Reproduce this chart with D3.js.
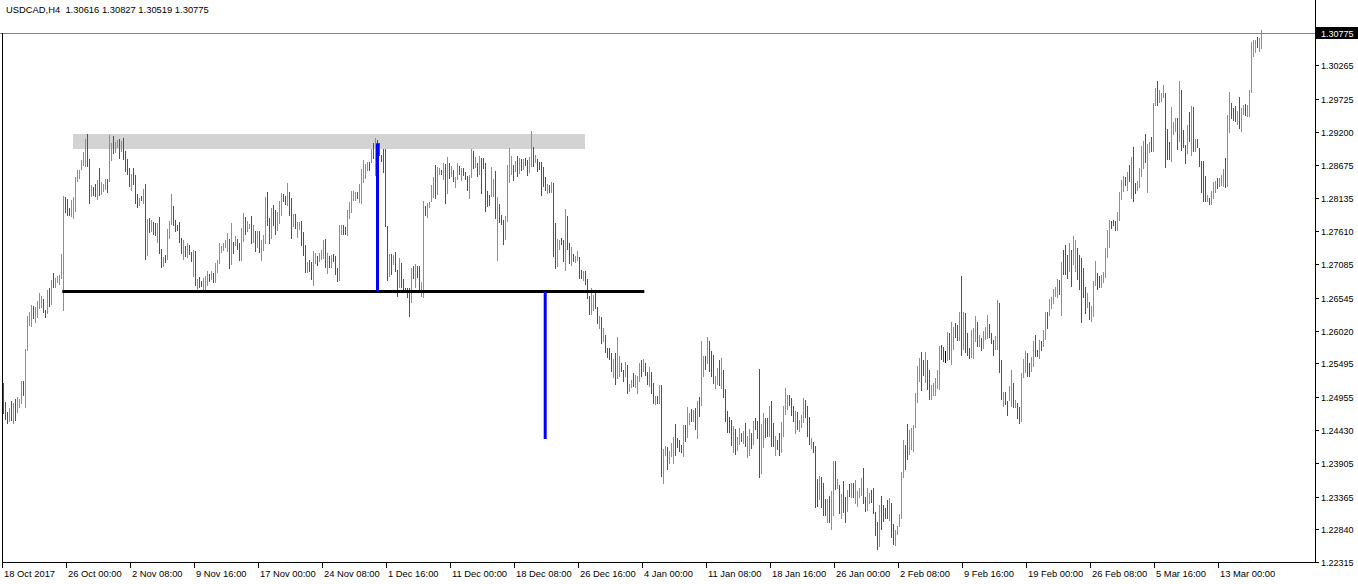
<!DOCTYPE html>
<html><head><meta charset="utf-8">
<script src="https://cdn.jsdelivr.net/npm/d3@7"></script>
<style>
body{margin:0;background:#fff;}
svg{display:block;}
text{font-family:"Liberation Sans",Arial,sans-serif;fill:#000;}
</style>
</head><body>
<svg id="chart" width="1358" height="584"></svg>
<script>
const chartTitle = "USDCAD,H4\u00a0\u00a01.30616 1.30827 1.30519 1.30775";
const lastPrice = 1.30775;

const highs = [
1.25182,1.24878,1.24718,1.24782,1.24894,1.24862,1.24926,1.24958,1.24926,1.25214,
1.25214,1.25726,1.26254,1.26318,1.26430,1.26414,1.26398,1.26494,1.26622,1.26574,
1.26526,1.26350,1.26670,1.26702,1.26830,1.26942,1.26862,1.26894,1.26910,1.27246,
1.28174,1.28158,1.28126,1.27982,1.28110,1.28158,1.28478,1.28590,1.28590,1.28750,
1.28878,1.29086,1.29166,1.28766,1.28350,1.28318,1.28366,1.28430,1.28622,1.28398,
1.28366,1.28446,1.28446,1.29150,1.29022,1.29134,1.29038,1.29070,1.29086,1.29054,
1.29102,1.28894,1.28766,1.28622,1.28526,1.28622,1.28510,1.28206,1.28142,1.28174,
1.28286,1.28366,1.27806,1.27822,1.27790,1.27758,1.27742,1.27742,1.27838,1.27326,
1.27198,1.27230,1.27646,1.27774,1.28206,1.28014,1.27790,1.27710,1.27758,1.27502,
1.27470,1.27374,1.27422,1.27390,1.27278,1.27310,1.27294,1.26846,1.26878,1.26814,
1.26862,1.26894,1.26974,1.26926,1.26974,1.26942,1.27102,1.27150,1.27422,1.27374,
1.27422,1.27470,1.27582,1.27486,1.27742,1.27438,1.27534,1.27486,1.27422,1.27662,
1.27902,1.27838,1.27774,1.27726,1.27854,1.27710,1.27614,1.27614,1.27614,1.27470,
1.27550,1.28158,1.28238,1.27822,1.27982,1.28030,1.27950,1.27918,1.28094,1.28222,
1.28206,1.28174,1.28382,1.28238,1.28142,1.27886,1.27886,1.27758,1.27758,1.27774,
1.27598,1.27390,1.27118,1.27150,1.27118,1.27294,1.27262,1.27214,1.27262,1.27310,
1.27470,1.27486,1.27262,1.27214,1.27230,1.27246,1.27214,1.27022,1.27710,1.27710,
1.27710,1.27678,1.27950,1.28078,1.28254,1.28254,1.28238,1.28238,1.28366,1.28606,
1.28750,1.28686,1.28718,1.28718,1.28926,1.29022,1.29102,1.29070,1.29022,1.28830,
1.28926,1.28926,1.27694,1.27246,1.27246,1.27230,1.27278,1.26990,1.27182,1.27102,
1.26846,1.26702,1.26702,1.26702,1.27022,1.27054,1.27086,1.27054,1.27054,1.26798,
1.28094,1.28014,1.28062,1.28078,1.28350,1.28478,1.28670,1.28638,1.28622,1.28590,
1.28702,1.28686,1.28798,1.28702,1.28654,1.28590,1.28478,1.28702,1.28654,1.28622,
1.28622,1.28558,1.28494,1.28510,1.28926,1.28894,1.28798,1.28702,1.28814,1.28782,
1.28782,1.28702,1.28254,1.28190,1.28638,1.28446,1.28574,1.28158,1.28046,1.27870,
1.27790,1.27854,1.28670,1.28942,1.28814,1.28670,1.28734,1.28814,1.28782,1.28766,
1.28766,1.28782,1.28750,1.28798,1.29214,1.28958,1.28830,1.28766,1.28718,1.28718,
1.28638,1.28478,1.28366,1.28350,1.28398,1.28382,1.27742,1.27486,1.27470,1.27502,
1.27470,1.27966,1.27854,1.27422,1.27358,1.27246,1.27214,1.27294,1.27198,1.26990,
1.26974,1.26974,1.26846,1.26574,1.26702,1.26590,1.26638,1.26398,1.26254,1.26238,
1.26062,1.25950,1.25742,1.25742,1.25662,1.25566,1.25662,1.25918,1.25614,1.25502,
1.25390,1.25518,1.25470,1.25166,1.25230,1.25342,1.25310,1.25294,1.25502,1.25550,
1.25566,1.25502,1.25358,1.25438,1.25358,1.25182,1.24974,1.24974,1.25150,1.25150,
1.24126,1.24174,1.24158,1.24094,1.24222,1.24318,1.24526,1.24302,1.24270,1.24190,
1.24510,1.24510,1.24798,1.24702,1.24766,1.24750,1.24782,1.24894,1.24958,1.25854,
1.25614,1.25614,1.25918,1.25854,1.25694,1.25630,1.25294,1.25422,1.25550,1.25582,
1.25390,1.25086,1.24734,1.24638,1.24590,1.24494,1.24446,1.24318,1.24462,1.24382,
1.24414,1.24542,1.24334,1.24446,1.24382,1.24574,1.24622,1.24574,1.25406,1.24526,
1.24702,1.24622,1.24622,1.24814,1.24894,1.24542,1.24334,1.24270,1.24382,1.24558,
1.24814,1.25102,1.24990,1.24990,1.24942,1.24814,1.24734,1.24718,1.24590,1.24670,
1.24942,1.24910,1.24814,1.24638,1.24302,1.24238,1.24174,1.23646,1.23694,1.23678,
1.23582,1.23326,1.23326,1.23374,1.23454,1.23934,1.23934,1.23646,1.23550,1.23406,
1.23614,1.23358,1.23470,1.23566,1.23582,1.23582,1.23630,1.23454,1.23502,1.23662,
1.23822,1.23358,1.23502,1.23422,1.23470,1.23502,1.23118,1.22958,1.23230,1.23374,
1.23230,1.23182,1.23310,1.23342,1.23262,1.22926,1.22830,1.22894,1.23086,1.23758,
1.24270,1.24190,1.24526,1.24430,1.24462,1.24510,1.25022,1.25454,1.25582,1.25678,
1.25550,1.25678,1.25550,1.25390,1.25150,1.25182,1.25262,1.25390,1.25774,1.25790,
1.25758,1.25694,1.25998,1.25982,1.26158,1.26078,1.26142,1.26110,1.26318,1.26894,
1.26318,1.26302,1.25982,1.25742,1.26030,1.26062,1.26254,1.26158,1.25950,1.25902,
1.26014,1.26078,1.26270,1.26126,1.25982,1.25870,1.25934,1.26510,1.26462,1.25550,
1.25038,1.25038,1.24894,1.25134,1.25390,1.25182,1.24910,1.24862,1.24798,1.25342,
1.25566,1.25694,1.25662,1.25502,1.25598,1.25854,1.25950,1.25710,1.25870,1.25854,
1.26030,1.26318,1.26318,1.26526,1.26558,1.26686,1.26718,1.26846,1.26830,1.27118,
1.27310,1.27390,1.27230,1.27422,1.27310,1.27534,1.27470,1.27342,1.27230,1.27182,
1.27022,1.26718,1.26622,1.26478,1.26414,1.26814,1.27134,1.26942,1.26894,1.26910,
1.26958,1.27342,1.27630,1.27790,1.27774,1.27790,1.27774,1.27918,1.28238,1.28430,
1.28494,1.28478,1.28558,1.28670,1.28798,1.28958,1.28382,1.28414,1.28622,1.28974,
1.29054,1.29166,1.29006,1.29038,1.29118,1.29662,1.29902,1.30014,1.29870,1.29822,
1.29950,1.29822,1.29246,1.29038,1.29598,1.29358,1.29422,1.29422,1.30014,1.29870,
1.29230,1.28990,1.29310,1.29518,1.29614,1.29598,1.29086,1.29086,1.28942,1.28734,
1.28734,1.28494,1.28190,1.28142,1.28254,1.28398,1.28414,1.28462,1.28462,1.28510,
1.28606,1.28782,1.29470,1.29838,1.29662,1.29582,1.29614,1.29534,1.29758,1.29582,
1.29630,1.29646,1.29630,1.29870,1.30638,1.30670,1.30670,1.30718,1.30702,1.30827
];

const lows = [
1.24686,1.24590,1.24526,1.24558,1.24574,1.24526,1.24574,1.24702,1.24782,1.24846,
1.24974,1.24782,1.25694,1.26094,1.26078,1.26206,1.26142,1.26222,1.26366,1.26382,
1.26302,1.26222,1.26286,1.26398,1.26430,1.26702,1.26702,1.26782,1.26750,1.26846,
1.26334,1.27902,1.27854,1.27854,1.27838,1.27806,1.27918,1.28398,1.28446,1.28590,
1.28654,1.28638,1.28638,1.28046,1.28158,1.28174,1.28158,1.28110,1.28174,1.28190,
1.28238,1.28270,1.28222,1.28398,1.28734,1.28846,1.28862,1.28942,1.28766,1.28878,
1.28750,1.28558,1.28510,1.28318,1.28254,1.28350,1.28046,1.27982,1.28014,1.28094,
1.28046,1.27150,1.27214,1.27582,1.27598,1.27550,1.27534,1.27422,1.27246,1.27022,
1.27038,1.27102,1.27150,1.27486,1.27710,1.27694,1.27598,1.27614,1.27422,1.27246,
1.27150,1.27198,1.27182,1.27230,1.27118,1.26878,1.26734,1.26670,1.26702,1.26718,
1.26670,1.26670,1.26734,1.26798,1.26830,1.26782,1.26782,1.26942,1.27086,1.27262,
1.27294,1.27342,1.27278,1.27006,1.27070,1.27246,1.27374,1.27310,1.27134,1.27134,
1.27438,1.27550,1.27598,1.27646,1.27406,1.27422,1.27278,1.27342,1.27262,1.27134,
1.27294,1.27406,1.27694,1.27406,1.27486,1.27694,1.27550,1.27614,1.27726,1.27854,
1.28078,1.28030,1.28014,1.27854,1.27486,1.27678,1.27646,1.27502,1.27630,1.27374,
1.27214,1.26942,1.26942,1.26958,1.26830,1.26734,1.27086,1.27054,1.27118,1.27150,
1.27166,1.27022,1.26926,1.27022,1.27022,1.27118,1.26910,1.26798,1.26814,1.27550,
1.27550,1.27550,1.27534,1.27806,1.27902,1.28094,1.28094,1.28126,1.28062,1.28046,
1.28382,1.28446,1.28574,1.28574,1.28702,1.28766,1.28494,1.28830,1.28814,1.28718,
1.28542,1.27678,1.26814,1.26878,1.26910,1.27070,1.26958,1.26558,1.26702,1.26702,
1.26622,1.26622,1.26542,1.26238,1.26462,1.26846,1.26702,1.26862,1.26670,1.26558,
1.26542,1.27854,1.27822,1.27982,1.28078,1.28142,1.28126,1.28190,1.28510,1.28510,
1.28430,1.28046,1.28206,1.28446,1.28478,1.28398,1.28302,1.28430,1.28510,1.28414,
1.28494,1.28430,1.28254,1.28126,1.28462,1.28606,1.28622,1.28478,1.28510,1.28206,
1.28606,1.27918,1.27998,1.28014,1.28158,1.28158,1.27806,1.27134,1.27742,1.27710,
1.27390,1.27470,1.27758,1.28382,1.28510,1.28414,1.28558,1.28478,1.28526,1.28574,
1.28590,1.28654,1.28494,1.28542,1.28638,1.28638,1.28702,1.28558,1.28590,1.28174,
1.28318,1.28254,1.28206,1.28222,1.28222,1.27198,1.27006,1.27038,1.27310,1.27390,
1.27118,1.26974,1.27310,1.27086,1.27054,1.27118,1.27102,1.27134,1.26846,1.26846,
1.26814,1.26750,1.26526,1.26270,1.26270,1.26334,1.26366,1.26126,1.26046,1.25806,
1.25838,1.25662,1.25582,1.25550,1.25358,1.25262,1.25150,1.25246,1.25278,1.25358,
1.25198,1.25278,1.25006,1.25038,1.25102,1.25118,1.25102,1.25006,1.25198,1.25278,
1.25358,1.25294,1.25150,1.25118,1.25006,1.24846,1.24830,1.24846,1.24846,1.23678,
1.23566,1.24014,1.23790,1.23886,1.23998,1.23886,1.24014,1.24142,1.24078,1.24062,
1.23998,1.24238,1.24302,1.24510,1.24558,1.24558,1.24430,1.24286,1.24638,1.24814,
1.25278,1.25390,1.25486,1.25358,1.25278,1.25166,1.25086,1.25150,1.25134,1.25086,
1.24942,1.24558,1.24382,1.24382,1.24174,1.24062,1.24030,1.24094,1.24190,1.24238,
1.24206,1.24158,1.23982,1.24014,1.24126,1.24190,1.24430,1.24286,1.23662,1.23726,
1.24142,1.24302,1.24318,1.24318,1.24158,1.24158,1.24014,1.24110,1.24014,1.24062,
1.24318,1.24670,1.24750,1.24814,1.24654,1.24558,1.24366,1.24430,1.24398,1.24462,
1.24542,1.24622,1.24318,1.24190,1.24126,1.24062,1.23182,1.23198,1.23310,1.23182,
1.23054,1.23054,1.22942,1.22942,1.22830,1.23054,1.23470,1.23486,1.23086,1.23006,
1.23102,1.22942,1.23118,1.23358,1.23342,1.23342,1.23246,1.23198,1.23342,1.23374,
1.23246,1.23118,1.23134,1.23246,1.23262,1.23086,1.22734,1.22510,1.22558,1.22830,
1.22958,1.23006,1.23006,1.22974,1.22702,1.22590,1.22574,1.22750,1.22878,1.23006,
1.23662,1.23790,1.23950,1.24030,1.24110,1.24078,1.24462,1.24862,1.25198,1.25054,
1.25294,1.25182,1.25070,1.24910,1.24910,1.24974,1.24974,1.25086,1.25070,1.25550,
1.25518,1.25502,1.25534,1.25550,1.25470,1.25710,1.25902,1.25854,1.25854,1.25614,
1.25710,1.25662,1.25614,1.25566,1.25582,1.25566,1.25838,1.25758,1.25758,1.25694,
1.25726,1.25870,1.25886,1.25902,1.25806,1.25614,1.25710,1.25710,1.25342,1.24910,
1.24798,1.24830,1.24654,1.24894,1.24798,1.24782,1.24782,1.24606,1.24526,1.24558,
1.25262,1.25342,1.25278,1.25278,1.25358,1.25438,1.25598,1.25598,1.25566,1.25694,
1.25758,1.25870,1.26046,1.26254,1.26366,1.26446,1.26558,1.26542,1.26590,1.26254,
1.26910,1.26910,1.26846,1.26958,1.26718,1.27070,1.26958,1.26830,1.26670,1.26142,
1.26542,1.26286,1.26382,1.26190,1.26158,1.26238,1.26734,1.26670,1.26702,1.26702,
1.26782,1.26862,1.27182,1.27342,1.27646,1.27694,1.27614,1.27614,1.27774,1.28110,
1.28238,1.28334,1.28254,1.28398,1.28126,1.28078,1.28206,1.28254,1.28302,1.28478,
1.28606,1.28702,1.28222,1.28862,1.28878,1.28878,1.29614,1.29614,1.29662,1.29678,
1.29742,1.28622,1.28750,1.28750,1.28718,1.29150,1.29198,1.28910,1.29038,1.28894,
1.28942,1.28686,1.28846,1.29038,1.28814,1.28878,1.28878,1.28942,1.28638,1.28222,
1.28078,1.28078,1.28078,1.28030,1.28030,1.28126,1.28222,1.28286,1.28318,1.28334,
1.28318,1.28302,1.28318,1.29182,1.29406,1.29374,1.29358,1.29310,1.29246,1.29198,
1.29470,1.29454,1.29438,1.29438,1.29822,1.30398,1.30462,1.30542,1.30478,1.30519
];

// U = bullish bar, D = bearish bar, N = unchanged
const barDirections = (
"DDDUDUDUUU" + "DUUUUDUUUU" + "DDUDUDUUUU" + "UDDDUUUUUU" + "UUDDUDDUDU" +
"UUDUUDUUDU" + "DDDDUDDDUD" + "UDUDUDDUDD" + "UDUUUDDDDD" + "UDUDDUDUDD" +
"UUUDUDUUUU" + "UUUDUDUDDU" + "UDUUDUDUDU" + "UUDDUDDUUU" + "DDUDDUDUUD" +
"DDUDDUUDUU" + "UDUDUDDDUU" + "DDUUUUUDUU" + "UUUDUDUDDD" + "DDDUDUDDUD" +
"DDDDUDUDDU" + "UDUUUUDUUD" + "UDUDUDUUDU" + "DDDUUDUDUD" + "DDDDUUDUDD" +
"DUUUUDUDUD" + "UDDUUDUDDD" + "DDUDUDDUUD" + "DUDDUDUUDD" + "UDDDUUDDUD" +
"UDDDDUDUUD" + "DUDUUDUUUD" + "UDDUDDUDUD" + "UUDUUUDDDD" + "UDUUDUDUDU" +
"UDUDDDUUDU" + "DDDDDUDUUD" + "UDUUDUDDDU" + "UDDUDDUDDU" + "UUUDDDUDUU" +
"UDDDUDDDUD" + "DDUDUUDUDU" + "DDUDUDUUUU" + "DDUUDDDDUD" + "DDDUDDUUUU" +
"UDDUUUUUUD" + "DUDDUUUUUD" + "DNUDUUDDUD" + "UDDDUUUDUD" + "UUUDDDUUDD" +
"UDDUUDUDDU" + "UUDDUUDDUD" + "UUDUUUUUDU" + "DDDUDUUDDD" + "DDUDUUUDDU" +
"UUUUDDDUUU" + "UDUDUDDUUU" + "UDUUDUUDUU" + "UDDDUUUDUD" + "DDUDUDUDDD" +
"DDUDUUUDUU" + "UDUUDDDUDU" + "UDUUUUUDUU").split("");

const priceTickLabels = ["1.30265","1.29725","1.29200","1.28675","1.28135","1.27610","1.27085","1.26545",
  "1.26020","1.25495","1.24955","1.24430","1.23905","1.23365","1.22840","1.22315"];

const timeTickBars = [0,32,64,96,128,160,192,224,256,288,320,352,384,416,448,480,512,544,576,608];
const timeTickLabels = ["18 Oct 2017","26 Oct 00:00","2 Nov 08:00","9 Nov 16:00","17 Nov 00:00",
  "24 Nov 08:00","1 Dec 16:00","11 Dec 00:00","18 Dec 08:00","26 Dec 16:00","4 Jan 00:00",
  "11 Jan 08:00","18 Jan 16:00","26 Jan 00:00","2 Feb 08:00","9 Feb 16:00","19 Feb 00:00",
  "26 Feb 08:00","5 Mar 16:00","13 Mar 00:00"];

// annotations (bar index / price)
const zoneBars = [35, 291];
const zonePrices = [1.29166, 1.28926];
const supportBars = [29.65, 320.65];
const supportPrice = 1.26646;
const projectionBars = [187.25, 271.1];
const projectionFrom = [1.29017, 1.26646];
const projectionTo = [1.26646, 1.24286];

const W = 1358, H = 584;
const plotRight = 1315, plotBottom = 562;
const n = Math.min(highs.length, lows.length, barDirections.length);

const x = d3.scaleLinear().domain([0, 629]).range([3, 1261]);
const y = d3.scaleLinear().domain([1.22318, 1.3131]).range([562, 0]);

const svg = d3.select("#chart");
const colors = {U: "#1fdc1f", D: "#e01414", N: "#000000"};

// resistance zone
svg.append("rect")
  .attr("x", x(zoneBars[0])).attr("width", x(zoneBars[1]) - x(zoneBars[0]))
  .attr("y", y(zonePrices[0])).attr("height", y(zonePrices[1]) - y(zonePrices[0]))
  .attr("fill", "#d3d3d3");

// bid line
svg.append("line")
  .attr("x1", 0).attr("x2", plotRight)
  .attr("y1", Math.round(y(lastPrice)) + 0.5).attr("y2", Math.round(y(lastPrice)) + 0.5)
  .attr("stroke", "#778899").attr("stroke-width", 1);

// bars
const idx = d3.range(n);
svg.append("g").attr("shape-rendering", "crispEdges")
  .selectAll("rect").data(idx).join("rect")
  .attr("x", i => Math.round(x(i)))
  .attr("width", 1)
  .attr("y", i => Math.round(y(highs[i])))
  .attr("height", i => Math.max(1, Math.round(y(lows[i])) - Math.round(y(highs[i]))))
  .attr("fill", i => colors[barDirections[i]]);

// support line
svg.append("line")
  .attr("x1", x(supportBars[0])).attr("x2", x(supportBars[1]))
  .attr("y1", y(supportPrice)).attr("y2", y(supportPrice))
  .attr("stroke", "#000").attr("stroke-width", 3);

// projection lines
projectionBars.forEach((b, k) => {
  svg.append("line")
    .attr("x1", x(b)).attr("x2", x(b))
    .attr("y1", y(projectionFrom[k])).attr("y2", y(projectionTo[k]))
    .attr("stroke", "#0000ff").attr("stroke-width", 3);
});

// frame
const frame = svg.append("g").attr("shape-rendering", "crispEdges");
frame.append("line").attr("x1", plotRight + 0.5).attr("x2", plotRight + 0.5)
  .attr("y1", 0).attr("y2", plotBottom + 1).attr("stroke", "#000");
frame.append("line").attr("x1", 2).attr("x2", plotRight + 1)
  .attr("y1", plotBottom + 0.5).attr("y2", plotBottom + 0.5).attr("stroke", "#000");
frame.append("line").attr("x1", 2.5).attr("x2", 2.5)
  .attr("y1", 33).attr("y2", plotBottom + 1).attr("stroke", "#000");

// price axis
const pa = svg.append("g");
priceTickLabels.forEach(lbl => {
  const v = +lbl;
  const yy = Math.round(y(v)) + 0.5;
  pa.append("line").attr("x1", plotRight).attr("x2", plotRight + 4)
    .attr("y1", yy).attr("y2", yy).attr("stroke", "#000").attr("shape-rendering", "crispEdges");
  pa.append("text").attr("x", plotRight + 6).attr("y", yy + 3.5)
    .attr("font-size", "9px").text(lbl);
});

// current price label
const yl = y(lastPrice);
svg.append("rect").attr("x", plotRight + 1).attr("y", Math.round(yl) - 6)
  .attr("width", W - plotRight - 1).attr("height", 12).attr("fill", "#000");
svg.append("text").attr("x", plotRight + 6).attr("y", Math.round(yl) + 3.5)
  .attr("font-size", "9px").style("fill", "#fff").text(d3.format(".5f")(lastPrice));

// time axis
const ta = svg.append("g");
timeTickBars.forEach((b, k) => {
  const xx = Math.round(x(b)) - 0.5;
  ta.append("line").attr("x1", xx).attr("x2", xx)
    .attr("y1", plotBottom).attr("y2", plotBottom + 6).attr("stroke", "#000")
    .attr("shape-rendering", "crispEdges");
  ta.append("text").attr("x", xx + 1.5).attr("y", 577)
    .attr("font-size", "9.4px").text(timeTickLabels[k]);
});

// title
svg.append("text").attr("x", 6).attr("y", 13).attr("font-size", "9.4px").text(chartTitle);
</script>
</body></html>
